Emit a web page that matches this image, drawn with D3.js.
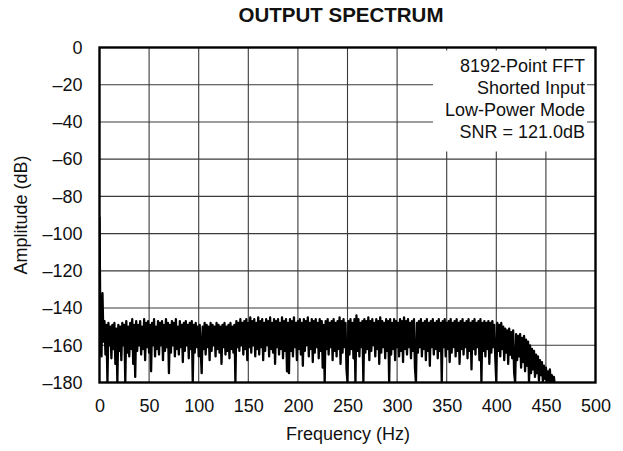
<!DOCTYPE html>
<html>
<head>
<meta charset="utf-8">
<script src="https://cdn.jsdelivr.net/npm/d3@7"></script>
<style>
  html, body { margin: 0; padding: 0; background: #fff; }
  svg { display: block; font-family: "Liberation Sans", Arial, Helvetica, sans-serif; }
</style>
</head>
<body>
<svg id="chart" width="623" height="451"></svg>
<script>
// ---- data ----
const title = "OUTPUT SPECTRUM";
const xLabel = "Frequency (Hz)";
const yLabel = "Amplitude (dB)";
const xTicks = [0, 50, 100, 150, 200, 250, 300, 350, 400, 450, 500];
const yTicks = [0, -20, -40, -60, -80, -100, -120, -140, -160, -180];
const noteLines = ["8192-Point FFT", "Shorted Input", "Low-Power Mode", "SNR = 121.0dB"];
const binWidthHz = 1; // spacing of the values below, in Hz
// amplitude (dB) per 1 Hz from 0 Hz to 460 Hz
const amplitude = [
  -91, -158, -166, -132, -158, -147, -165, -149, -180, -148,
  -160, -150, -167, -149, -162, -148, -170, -151, -180, -149,
  -163, -150, -168, -148, -160, -149, -180, -147, -164, -150,
  -166, -148, -162, -146, -170, -149, -177, -147, -163, -149,
  -160, -147, -165, -150, -162, -146, -168, -148, -161, -147,
  -164, -149, -174, -148, -160, -146, -166, -150, -162, -147,
  -165, -148, -160, -147, -168, -149, -163, -146, -161, -148,
  -175, -149, -164, -147, -160, -148, -166, -146, -162, -150,
  -165, -147, -161, -149, -169, -148, -163, -147, -160, -149,
  -167, -148, -162, -147, -180, -149, -164, -148, -161, -150,
  -166, -149, -163, -175, -150, -162, -148, -165, -149, -161,
  -150, -168, -148, -163, -149, -160, -150, -166, -148, -162,
  -149, -164, -150, -170, -149, -161, -148, -165, -150, -163,
  -149, -167, -148, -162, -150, -164, -149, -180, -147, -161,
  -148, -163, -146, -160, -148, -165, -147, -162, -146, -168,
  -148, -161, -145, -164, -147, -160, -146, -166, -148, -162,
  -145, -165, -147, -161, -146, -168, -148, -163, -146, -160,
  -147, -166, -145, -162, -148, -164, -146, -170, -147, -161,
  -146, -165, -148, -162, -145, -167, -147, -163, -146, -174,
  -148, -175, -146, -163, -147, -166, -145, -161, -148, -168,
  -147, -162, -146, -165, -148, -171, -146, -163, -147, -160,
  -145, -166, -148, -162, -146, -169, -147, -164, -146, -161,
  -148, -167, -146, -163, -147, -172, -149, -180, -147, -162,
  -146, -165, -148, -161, -147, -168, -146, -163, -148, -166,
  -147, -162, -145, -170, -147, -164, -146, -161, -148, -173,
  -180, -147, -165, -146, -162, -148, -167, -146, -180, -144,
  -163, -146, -166, -148, -161, -147, -180, -146, -164, -147,
  -162, -145, -168, -147, -163, -146, -160, -148, -166, -146,
  -162, -147, -170, -145, -164, -147, -161, -148, -167, -146,
  -163, -147, -180, -146, -165, -148, -162, -146, -168, -147,
  -161, -148, -166, -146, -163, -147, -169, -145, -162, -147,
  -165, -146, -161, -148, -167, -147, -163, -146, -172, -180,
  -148, -164, -147, -161, -146, -166, -148, -162, -147, -168,
  -146, -163, -148, -171, -147, -161, -146, -165, -148, -162,
  -147, -167, -146, -163, -148, -180, -147, -161, -146, -166,
  -148, -162, -147, -169, -146, -164, -148, -161, -147, -166,
  -146, -163, -148, -170, -147, -162, -146, -165, -148, -161,
  -147, -167, -146, -163, -148, -173, -147, -162, -146, -165,
  -148, -161, -147, -168, -146, -180, -148, -163, -147, -166,
  -148, -162, -147, -170, -148, -164, -147, -161, -149, -167,
  -180, -148, -163, -149, -166, -148, -162, -150, -168, -151,
  -164, -152, -170, -151, -165, -153, -167, -152, -175, -180,
  -154, -168, -155, -166, -154, -172, -156, -169, -155, -174,
  -157, -171, -158, -180, -160, -175, -162, -173, -163, -177,
  -165, -175, -166, -179, -168, -176, -169, -180, -171, -178,
  -172, -180, -174, -179, -173, -181, -176, -180, -177, -181,
  -182
];

// ---- layout ----
const svg = d3.select("#chart");
const plot = { left: 99.5, right: 595.5, top: 47.5, bottom: 382.5 };

const x = d3.scaleLinear().domain([0, 500]).range([plot.left, plot.right]);
const y = d3.scaleLinear().domain([0, -180]).range([plot.top, plot.bottom]);

const fontSize = 18;

// grid
svg.append("g").selectAll("line.vg").data(xTicks.slice(1, -1)).join("line")
  .attr("x1", d => x(d)).attr("x2", d => x(d))
  .attr("y1", plot.top).attr("y2", plot.bottom)
  .attr("stroke", "#3a3a3a").attr("stroke-width", 1.1);
svg.append("g").selectAll("line.hg").data(yTicks.slice(1, -1)).join("line")
  .attr("x1", plot.left).attr("x2", plot.right)
  .attr("y1", d => y(d)).attr("y2", d => y(d))
  .attr("stroke", "#3a3a3a").attr("stroke-width", 1.1);

// note box (white, covers grid)
svg.append("rect")
  .attr("x", 433).attr("y", 50.5)
  .attr("width", 154).attr("height", 101)
  .attr("fill", "#fff");

// clip
svg.append("clipPath").attr("id", "clip")
  .append("rect")
  .attr("x", plot.left).attr("y", plot.top)
  .attr("width", plot.right - plot.left).attr("height", plot.bottom - plot.top);

// trace
const line = d3.line()
  .x((d, i) => x(i * binWidthHz))
  .y(d => y(d));
svg.append("path")
  .datum(amplitude)
  .attr("clip-path", "url(#clip)")
  .attr("d", line)
  .attr("fill", "none")
  .attr("stroke", "#000")
  .attr("stroke-width", 2.3)
  .attr("stroke-linejoin", "round");

// frame
svg.append("rect")
  .attr("x", plot.left).attr("y", plot.top)
  .attr("width", plot.right - plot.left).attr("height", plot.bottom - plot.top)
  .attr("fill", "none").attr("stroke", "#000").attr("stroke-width", 2.4);

// axes (labels only, via d3 axes)
const fmt = d => (d < 0 ? "\u2013" + Math.abs(d) : String(d));
const xAxis = svg.append("g")
  .attr("transform", `translate(0,${plot.bottom})`)
  .call(d3.axisBottom(x).tickValues(xTicks).tickFormat(fmt).tickSize(0).tickPadding(17));
const yAxis = svg.append("g")
  .attr("transform", `translate(${plot.left},0)`)
  .call(d3.axisLeft(y).tickValues(yTicks).tickFormat(fmt).tickSize(0).tickPadding(17));
[xAxis, yAxis].forEach(g => {
  g.select(".domain").remove();
  g.selectAll("text")
    .attr("font-family", "'Liberation Sans', Arial, Helvetica, sans-serif")
    .attr("font-size", fontSize).attr("fill", "#111");
});

// title
svg.append("text")
  .attr("x", 341).attr("y", 21.5)
  .attr("text-anchor", "middle")
  .attr("font-size", 20.5).attr("font-weight", "bold").attr("fill", "#111")
  .text(title);

// axis titles
svg.append("text")
  .attr("x", 348).attr("y", 440)
  .attr("text-anchor", "middle")
  .attr("font-size", fontSize).attr("fill", "#111")
  .text(xLabel);
svg.append("text")
  .attr("transform", "translate(27,215) rotate(-90)")
  .attr("text-anchor", "middle")
  .attr("font-size", fontSize).attr("fill", "#111")
  .text(yLabel);

// note
svg.append("g").selectAll("text").data(noteLines).join("text")
  .attr("x", 585).attr("y", (d, i) => 72 + i * 22)
  .attr("text-anchor", "end")
  .attr("font-size", fontSize).attr("fill", "#111")
  .text(d => d);
</script>
</body>
</html>
